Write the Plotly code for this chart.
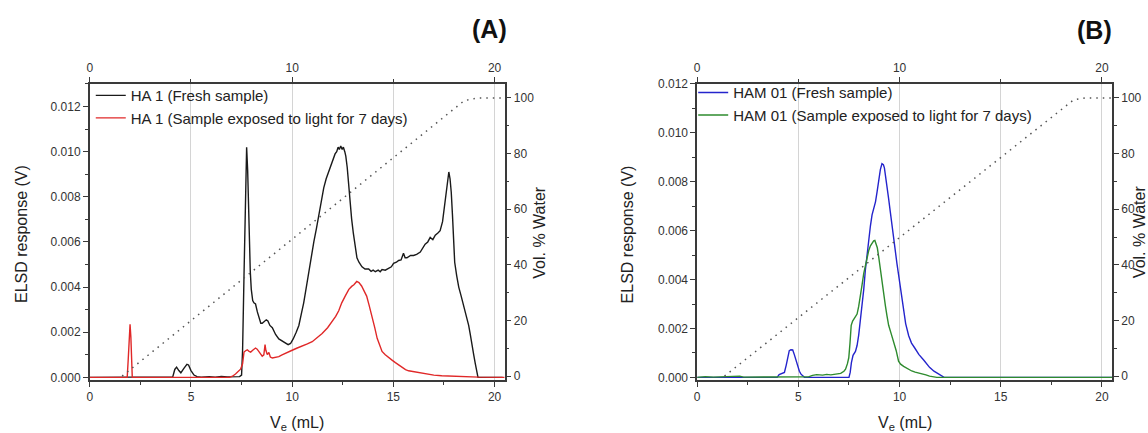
import plotly.graph_objects as go

# ---------------- data ----------------
# Panel A: HA 1
ha1_fresh_v = [0, 2.2, 2.35, 2.5, 2.7, 3.0, 3.3, 3.6, 3.8, 4.1, 4.2, 4.29, 4.4, 4.5, 4.65, 4.8, 4.88, 5.0, 5.15, 5.3,
               5.5, 5.9, 6.2, 6.5, 6.8, 7.1, 7.4, 7.5, 7.55, 7.62, 7.7, 7.75, 7.8, 7.87, 7.93, 7.98, 8.05, 8.11, 8.19,
               8.28, 8.36, 8.45, 8.52, 8.62, 8.72, 8.8, 8.9, 9.02, 9.18, 9.34, 9.5, 9.67, 9.8, 9.92, 10.05, 10.2,
               10.33, 10.45, 10.57, 10.7, 10.82, 10.95, 11.07, 11.2, 11.31, 11.45, 11.56, 11.68, 11.8, 11.9, 11.97,
               12.05, 12.12, 12.2, 12.27, 12.33, 12.4, 12.47, 12.53, 12.6, 12.65, 12.72, 12.78, 12.86, 12.94, 13.02,
               13.1, 13.2, 13.3, 13.45, 13.6, 13.78, 13.9, 14.0, 14.11, 14.25, 14.35, 14.44, 14.6, 14.77, 14.9,
               15.01, 15.15, 15.26, 15.38, 15.5, 15.58, 15.67, 15.85, 16.0, 16.15, 16.33, 16.45, 16.57, 16.7, 16.82,
               16.95, 17.07, 17.2, 17.31, 17.43, 17.5, 17.56, 17.66, 17.74, 17.8, 17.86, 17.92, 17.97, 18.03, 18.13,
               18.23, 18.35, 18.47, 18.6, 18.72, 18.8, 18.88, 18.97, 19.05, 19.12, 19.18, 20.4]
ha1_fresh_elsd = [0, 0, 0.00003, 0.00001, 0.00003, 0.00001, 0.00002, 0.00003, 0.00001, 0.00002, 0.00035, 0.00045,
                  0.0003, 0.0002, 0.0004, 0.00058, 0.00055, 0.0003, 0.0001, 0.00003,
                  0.00001, 0.00003, 0.00001, 0.00004, 0.00002, 0.00004, 0.00003, 0.0001, 0.0012, 0.0045, 0.0090,
                  0.0102, 0.0092, 0.0065, 0.0047, 0.0039, 0.0034, 0.0033, 0.00325,
                  0.0029, 0.0026, 0.0024, 0.0024, 0.0025, 0.00255, 0.0025, 0.0023, 0.0022, 0.0019, 0.0017, 0.0016,
                  0.0015, 0.00145, 0.0015, 0.0017, 0.0020,
                  0.0023, 0.0028, 0.0033, 0.0040, 0.0047, 0.0054, 0.0060, 0.0066, 0.0072, 0.0078, 0.0084, 0.0088,
                  0.0091, 0.0093, 0.0095,
                  0.0097, 0.0099, 0.0100, 0.0102, 0.0101, 0.01025, 0.0101, 0.0102, 0.0100, 0.0098, 0.0093, 0.0086,
                  0.0078, 0.0070, 0.0064,
                  0.0058, 0.0053, 0.0051, 0.0049, 0.0048, 0.0048, 0.0047, 0.00475, 0.00468, 0.00475, 0.00468,
                  0.00478, 0.00475, 0.00485, 0.0049,
                  0.00505, 0.0051, 0.00518, 0.0052, 0.0055, 0.0053, 0.0053, 0.0054, 0.0054, 0.00545, 0.00555, 0.0057,
                  0.0059, 0.0060, 0.0062,
                  0.0061, 0.0063, 0.0064, 0.0065, 0.0069, 0.0074, 0.0079, 0.0086, 0.0091, 0.0088, 0.0082, 0.0072,
                  0.0060, 0.0051, 0.0045,
                  0.0040, 0.0036, 0.0032, 0.0028, 0.0023, 0.0019, 0.0014, 0.0010, 0.0006, 0.0003, 0.0, 0.0]

ha1_light_v = [0, 1.85, 1.9, 1.95, 1.99, 2.03, 2.07, 2.1, 6.9, 7.05, 7.2, 7.35, 7.45, 7.55, 7.62, 7.7, 7.78, 7.87,
               7.95, 8.05, 8.19, 8.27, 8.36, 8.45, 8.52, 8.6, 8.66, 8.7, 8.77, 8.85, 8.92, 9.02, 9.18, 9.34, 9.5,
               9.67, 9.85, 10.0, 10.25, 10.49, 10.75, 10.99, 11.25, 11.48, 11.75, 11.97, 12.15, 12.3, 12.45, 12.62,
               12.8, 12.94, 13.05, 13.19, 13.3, 13.43, 13.55, 13.68, 13.8, 13.95, 14.08, 14.2, 14.32, 14.44, 14.6,
               14.77, 14.95, 15.1, 15.25, 15.42, 15.6, 15.75, 16.0, 16.24, 16.5, 16.74, 17.0, 17.39, 17.9, 18.38,
               19.2, 20.5]
ha1_light_elsd = [0, 0, 0.0008, 0.0022, 0.00235, 0.0018, 0.0006, 0.0, 0.0, 0.00005, 0.00015, 0.00028, 0.00036,
                  0.0006, 0.00112, 0.00118, 0.00122, 0.00115,
                  0.00112, 0.0012, 0.0013, 0.00125, 0.00115, 0.001, 0.00094, 0.001, 0.00145, 0.0012, 0.00101,
                  0.0011, 0.0009, 0.00086, 0.0009, 0.00092, 0.001,
                  0.00106, 0.00112, 0.0012, 0.0013, 0.00137, 0.00148, 0.00158, 0.00175, 0.00194, 0.0022, 0.00245,
                  0.0027, 0.00295, 0.0033, 0.0036,
                  0.0039, 0.00403, 0.0041, 0.00425, 0.0042, 0.00405, 0.0038, 0.0036, 0.0032, 0.0027, 0.0022,
                  0.00173, 0.0014, 0.00115, 0.001,
                  0.00086, 0.00075, 0.00065, 0.00055, 0.00043, 0.00034, 0.00029, 0.00025, 0.00022, 0.00018,
                  0.00014, 0.0001, 0.00007, 0.00005, 0.00004,
                  0.00001, 0.0]

# Panel B: HAM 01
ham01_fresh_v = [0, 3.95, 4.05, 4.2, 4.31, 4.4, 4.47, 4.55, 4.63, 4.72, 4.8, 4.88, 4.97, 5.05, 5.13, 5.3, 7.5, 7.56,
                 7.62, 7.7, 7.82, 7.9, 7.98, 8.06, 8.15, 8.23, 8.31, 8.4, 8.48, 8.56, 8.64, 8.72, 8.81, 8.89, 8.97,
                 9.05, 9.13, 9.2, 9.25, 9.32, 9.38, 9.46, 9.54, 9.62, 9.71, 9.79, 9.87, 9.95, 10.03, 10.15, 10.3,
                 10.45, 10.59, 10.75, 10.95, 11.2, 11.48, 11.7, 11.93, 12.1, 12.2, 20.5]
ham01_fresh_elsd = [0, 0, 0.00011, 0.00015, 0.0002, 0.0005, 0.0008, 0.00109, 0.00113, 0.00112, 0.00093, 0.0007,
                    0.0004, 0.00025, 0.00013, 0, 0, 0.0002,
                    0.0006, 0.0009, 0.00106, 0.0013, 0.00173, 0.0023, 0.00292, 0.0036, 0.00439, 0.0051, 0.00571,
                    0.0062, 0.00665, 0.0069, 0.00718, 0.0076, 0.00811,
                    0.0085, 0.00874, 0.0087, 0.00857, 0.0082, 0.00784, 0.0073, 0.00678, 0.0062, 0.00571, 0.0052,
                    0.00465, 0.0042, 0.00372, 0.0030, 0.0022,
                    0.0017, 0.0014, 0.0012, 0.00094, 0.0007, 0.00041, 0.00025, 0.00013, 0.00005, 0, 0]

ham01_light_v = [0, 0.4, 0.8, 1.2, 2.0, 2.1, 2.3, 3.0, 4.0, 5.5, 5.7, 5.9, 6.2, 6.4, 6.6, 6.9, 7.09, 7.25, 7.33,
                 7.42, 7.49, 7.55, 7.61, 7.68, 7.74, 7.82, 7.9, 7.98, 8.07, 8.15, 8.23, 8.31, 8.39, 8.48, 8.56, 8.64,
                 8.72, 8.78, 8.82, 8.9, 8.97, 9.05, 9.13, 9.22, 9.3, 9.38, 9.46, 9.58, 9.71, 9.83, 9.95, 10.05, 10.2,
                 10.41, 10.6, 10.77, 10.95, 11.13, 11.3, 11.48, 11.84, 20.5]
ham01_light_elsd = [0, 0.00003, 0.00001, 0.00002, 0.00002, 0.00005, 0.00001, 0.00001, 0.00001, 0.00002, 0.00008,
                    0.00011, 0.00009, 0.00012, 0.0001, 0.00013, 0.00016, 0.00025, 0.00033,
                    0.00055, 0.0008, 0.0014, 0.00213, 0.0023, 0.00239, 0.0025, 0.00259, 0.0029, 0.00332, 0.0038,
                    0.00425, 0.0046, 0.00492, 0.0052, 0.00538, 0.0055,
                    0.00558, 0.0056, 0.00551, 0.0053, 0.00492, 0.0044, 0.00386, 0.0034, 0.00292, 0.0025, 0.00213,
                    0.0018, 0.00146, 0.0011, 0.00066, 0.00054, 0.00045,
                    0.00034, 0.00026, 0.00021, 0.00018, 0.00015, 0.0001, 0.00005, 0, 0]

# Water gradient (Vol. % water)
grad_a_v = [1.6, 18.5, 19.2, 20.5]
grad_a_pct = [0, 99, 100, 100]
grad_b_v = [1.35, 18.6, 19.2, 20.5]
grad_b_pct = [0, 99.3, 100, 100]

legend_a = ["HA 1 (Fresh sample)", "HA 1 (Sample exposed to light for 7 days)"]
legend_b = ["HAM 01 (Fresh sample)", "HAM 01 (Sample exposed to light for 7 days)"]

# ---------------- figure ----------------
W, H = 1148, 433
FONT = "Liberation Sans, Arial, sans-serif"
AX = "#3a3a3a"
TICK = "#333333"


def fx(p):
    return p / W


def fy(p):
    return 1 - p / H


ydom = [fy(383), fy(79)]
xdom_a = [fx(87), fx(503)]
xdom_b = [fx(696), fx(1112)]

fig = go.Figure()

fig.add_trace(go.Scatter(x=ha1_fresh_v, y=ha1_fresh_elsd, mode="lines", name=legend_a[0],
                         line=dict(color="#1a1a1a", width=1.4), xaxis="x", yaxis="y", legend="legend"))
fig.add_trace(go.Scatter(x=ha1_light_v, y=ha1_light_elsd, mode="lines", name=legend_a[1],
                         line=dict(color="#e02828", width=1.4), xaxis="x", yaxis="y", legend="legend"))
fig.add_trace(go.Scatter(x=grad_a_v, y=grad_a_pct, mode="lines", showlegend=False,
                         line=dict(color="#555555", width=1.5, dash="1.5px,5px"), xaxis="x", yaxis="y2"))

fig.add_trace(go.Scatter(x=ham01_fresh_v, y=ham01_fresh_elsd, mode="lines", name=legend_b[0],
                         line=dict(color="#2424cc", width=1.4), xaxis="x3", yaxis="y3", legend="legend2"))
fig.add_trace(go.Scatter(x=ham01_light_v, y=ham01_light_elsd, mode="lines", name=legend_b[1],
                         line=dict(color="#2e8b2e", width=1.4), xaxis="x3", yaxis="y3", legend="legend2"))
fig.add_trace(go.Scatter(x=grad_b_v, y=grad_b_pct, mode="lines", showlegend=False,
                         line=dict(color="#555555", width=1.5, dash="1.5px,5px"), xaxis="x3", yaxis="y4"))

tickfont = dict(family=FONT, size=12, color=TICK)
common = dict(showline=True, linecolor=AX, linewidth=1.5, ticks="outside", ticklen=5, tickwidth=1.2,
              tickcolor=AX, tickfont=tickfont, zeroline=False, fixedrange=True)

xb = dict(range=[0, 20.5], tick0=0, dtick=5, showgrid=True, gridcolor="#d4d4d4", gridwidth=1,
          minor=dict(dtick=2.5, ticklen=3, tickcolor=AX, showgrid=False), **common)
xt = dict(range=[0, 20.5], tick0=0, dtick=10, showgrid=False, side="top",
          minor=dict(dtick=5, ticklen=3, tickcolor=AX, showgrid=False), **common)
yr = dict(range=[-1.5, 105], tick0=0, dtick=20, showgrid=False, side="right",
          minor=dict(dtick=10, ticklen=3, tickcolor=AX), **common)

legend_font = dict(family=FONT, size=15, color="#222222")

fig.update_layout(
    width=W, height=H, margin=dict(l=0, r=0, t=0, b=0),
    paper_bgcolor="white", plot_bgcolor="white",
    font=dict(family=FONT, color="#222222"),
    xaxis=dict(domain=xdom_a, anchor="y", **xb),
    xaxis2=dict(overlaying="x", anchor="y", **xt),
    yaxis=dict(domain=ydom, anchor="x", range=[-0.00013, 0.013], tick0=0, dtick=0.002, tickformat=".3f",
               showgrid=False, minor=dict(dtick=0.001, ticklen=3, tickcolor=AX), **common),
    yaxis2=dict(overlaying="y", anchor="x", **yr),
    xaxis3=dict(domain=xdom_b, anchor="y3", **xb),
    xaxis4=dict(overlaying="x3", anchor="y3", **xt),
    yaxis3=dict(domain=ydom, anchor="x3", range=[-0.00012, 0.012], tick0=0, dtick=0.002, tickformat=".3f",
                showgrid=False, minor=dict(dtick=0.001, ticklen=3, tickcolor=AX), **common),
    yaxis4=dict(overlaying="y3", anchor="x3", **yr),
    legend=dict(x=fx(88), y=fy(74), xanchor="left", yanchor="top", bgcolor="rgba(0,0,0,0)",
                font=legend_font, tracegroupgap=0),
    legend2=dict(x=fx(692), y=fy(71), xanchor="left", yanchor="top", bgcolor="rgba(0,0,0,0)",
                 font=legend_font, tracegroupgap=0),
    showlegend=True,
)

# empty traces so the top axes are registered
fig.add_trace(go.Scatter(x=[], y=[], xaxis="x2", yaxis="y", showlegend=False, hoverinfo="skip"))
fig.add_trace(go.Scatter(x=[], y=[], xaxis="x4", yaxis="y3", showlegend=False, hoverinfo="skip"))

title_font = dict(family=FONT, size=16, color="#222222")
ann = [
    dict(text="<b>(A)</b>", x=fx(488), y=fy(23), font=dict(family=FONT, size=25, color="#111111")),
    dict(text="<b>(B)</b>", x=fx(1094), y=fy(24), font=dict(family=FONT, size=25, color="#111111")),
    dict(text="ELSD response (V)", x=fx(18), y=fy(233), textangle=-90, font=title_font),
    dict(text="ELSD response (V)", x=fx(626), y=fy(233), textangle=-90, font=title_font),
    dict(text="Vol. % Water", x=fx(538), y=fy(231), textangle=-90, font=title_font),
    dict(text="Vol. % Water", x=fx(1139), y=fy(231), textangle=-90, font=title_font),
    dict(text="V<sub>e</sub> (mL)", x=fx(295), y=fy(427), font=title_font),
    dict(text="V<sub>e</sub> (mL)", x=fx(904), y=fy(427), font=title_font),
]
for a in ann:
    fig.add_annotation(xref="paper", yref="paper", showarrow=False, xanchor="center", yanchor="middle", **a)

fig.write_html("out.html")
